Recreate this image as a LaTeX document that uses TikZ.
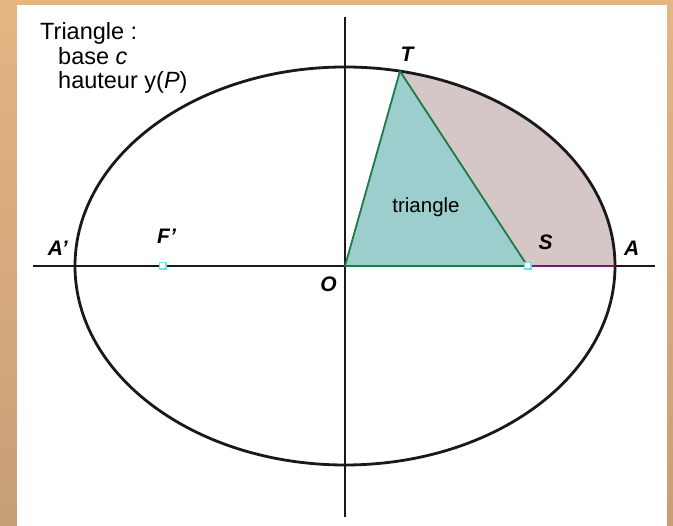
\documentclass[tikz,border=0pt]{standalone}
\usepackage{fontspec}
\setmainfont{Liberation Sans}
\usetikzlibrary{positioning,calc}
\definecolor{frametop}{RGB}{229,181,131}
\definecolor{framebot}{RGB}{199,159,118}
\definecolor{trifill}{RGB}{155,206,205}
\definecolor{triline}{RGB}{28,122,72}
\definecolor{sectfill}{RGB}{214,199,199}
\definecolor{axisline}{RGB}{25,25,25}
\definecolor{apsline}{RGB}{118,22,112}
\definecolor{focusline}{RGB}{110,225,235}

\begin{document}
\begin{tikzpicture}[x=1pt, y=1pt,
  axis/.style={draw=axisline, line width=2pt},
  orbit/.style={draw=black!90, line width=2.8pt},
  tri/.style={fill=trifill, draw=triline, line width=1.8pt, line join=round},
  lbl/.style={font=\fontsize{21}{21}\selectfont\bfseries\itshape, inner sep=0pt},
  txt/.style={font=\fontsize{23.5}{25}\selectfont, inner sep=0pt, anchor=base west},
  focus/.style={draw=focusline, fill=white, line width=1.5pt, rectangle, minimum size=6.5pt, inner sep=0pt}]

% frame and panel
\useasboundingbox (0,0) rectangle (673,526);
\shade[top color=frametop, bottom color=framebot] (0,0) rectangle (673,526);
\fill[white] (17,0) rectangle (667,521);

% points of the ellipse
\coordinate (O) at (345,260);
\coordinate (A) at (615,260);
\coordinate (A2) at (75,260);
\coordinate (S) at (527.5,260);
\coordinate (F2) at (162.5,260);
\coordinate (T) at ($(O)+(78.25:270 and 199)$);
\coordinate (xl) at (33,260);
\coordinate (xr) at (655,260);
\coordinate (yt) at (345,509);
\coordinate (yb) at (345,9);

% area swept beyond the triangle
\fill[sectfill] (S) -- (A) arc[start angle=0, end angle=78.25, x radius=270, y radius=199] -- cycle;

% axes and orbit
\draw[axis] (xl) -- (xr);
\draw[axis] (yb) -- (yt);
\draw[orbit] (O) ellipse [x radius=270, y radius=199];

% triangle O S T
\draw[tri] (O) -- (S) -- (T) -- cycle;
\draw[apsline, line width=1.8pt] (S) -- (A);
\node[focus] (fs) at (S) {};
\node[focus] (ff) at (F2) {};

% labels
\node[lbl, above=9pt of T, xshift=7pt] (tT) {T};
\node[lbl, above right=16pt and 11pt of S] (tS) {S};
\node[lbl, above right=10pt and 9pt of A] (tA) {A};
\node[lbl, above left=10pt and 7pt of A2] (tA2) {A'};
\node[lbl, above=22pt of F2, xshift=4pt] (tF2) {F'};
\node[lbl, below left=11pt and 8pt of O] (tO) {O};
\node[font=\fontsize{20.5}{20}\selectfont, inner sep=0pt] (trilab) at (426,319) {triangle};

% legend text
\node[txt] (ttitle) at (40,486) {Triangle :};
\node[txt] (tbase) at (58,461) {base \textit{c}};
\node[txt] (thaut) at (58,437) {hauteur y(\textit{P})};
\end{tikzpicture}
\end{document}
